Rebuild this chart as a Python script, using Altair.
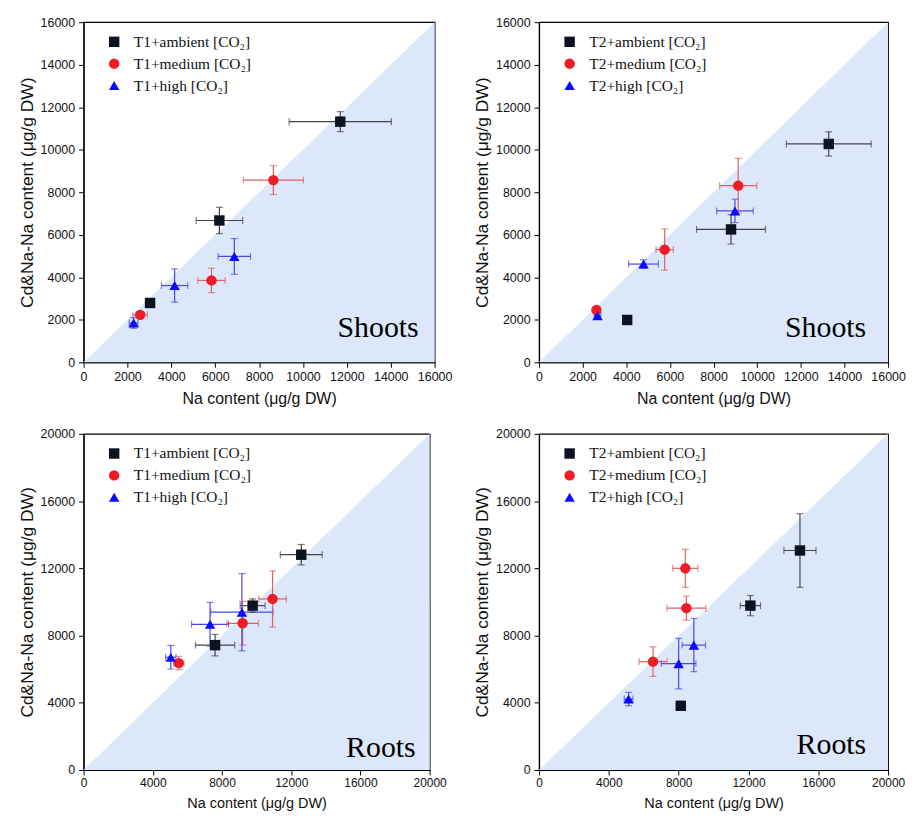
import altair as alt
import pandas as pd

# ---------------- data ----------------
# Panel 1: T1 shoots
p1_series = ["T1+ambient [CO₂]"] * 3 + ["T1+medium [CO₂]"] * 3 + ["T1+high [CO₂]"] * 3
p1_x = [11700, 6190, 3030, 8650, 5830, 2580, 6870, 4150, 2280]
p1_xerr = [2330, 1060, 150, 1370, 625, 330, 740, 600, 200]
p1_y = [11320, 6670, 2790, 8570, 3850, 2230, 4980, 3610, 1850]
p1_yerr = [470, 620, 150, 680, 576, 150, 840, 780, 250]

# Panel 2: T2 shoots
p2_series = ["T2+ambient [CO₂]"] * 3 + ["T2+medium [CO₂]"] * 3 + ["T2+high [CO₂]"] * 3
p2_x = [13280, 8800, 4040, 9130, 5760, 2630, 8980, 4790, 2680]
p2_xerr = [1945, 1580, 0, 850, 400, 120, 840, 680, 150]
p2_y = [10270, 6250, 1990, 8310, 5300, 2460, 7120, 4620, 2190]
p2_yerr = [570, 690, 0, 1285, 970, 120, 550, 200, 150]

# Panel 3: T1 roots
p3_series = ["T1+ambient [CO₂]"] * 3 + ["T1+medium [CO₂]"] * 3 + ["T1+high [CO₂]"] * 3
p3_x = [12580, 9770, 7600, 10920, 9190, 5500, 9150, 7310, 5040]
p3_xerr = [1210, 720, 1135, 800, 915, 300, 1800, 1070, 300]
p3_y = [12810, 9780, 7430, 10180, 8730, 6360, 9390, 8670, 6710]
p3_yerr = [610, 400, 640, 1670, 1300, 400, 2300, 1300, 700]

# Panel 4: T2 roots
p4_series = ["T2+ambient [CO₂]"] * 3 + ["T2+medium [CO₂]"] * 3 + ["T2+high [CO₂]"] * 3
p4_x = [14950, 12110, 8120, 8380, 8440, 6530, 8870, 8000, 5130]
p4_xerr = [920, 580, 0, 720, 1115, 800, 670, 990, 250]
p4_y = [13060, 9780, 3820, 12000, 9630, 6450, 7430, 6330, 4220]
p4_yerr = [2190, 600, 0, 1130, 715, 880, 1580, 1500, 400]

marker_colors = ["#0d1220", "#ee1c25", "#0a0aff"]
bar_colors = ["#444444", "#e06060", "#4848e8"]
shapes = ["square", "circle", "triangle-up"]
marker_sizes = [110, 110, 170]

X_TITLE = "Na content (μg/g DW)"
Y_TITLE = "Cd&Na-Na content (μg/g DW)"


def panel(series, xs, xerr, ys, yerr, vmax, major, minor, label, W, H,
          xlabel_size, xtitle_size, label_right, label_bottom):
    order = []
    for s in series:
        if s not in order:
            order.append(s)
    df = pd.DataFrame({"series": series, "x": xs, "xerr": xerr, "y": ys, "yerr": yerr})
    df["xlo"] = df["x"] - df["xerr"]
    df["xhi"] = df["x"] + df["xerr"]
    df["ylo"] = df["y"] - df["yerr"]
    df["yhi"] = df["y"] + df["yerr"]
    cmap = dict(zip(order, bar_colors))
    df["ecolor"] = df["series"].map(cmap)
    df_err_x = df[df["xerr"] > 0]
    df_err_y = df[df["yerr"] > 0]

    ticks = list(range(0, vmax + 1, minor))
    lab = f"datum.value % {major} === 0 ? datum.label : ''"
    xscale = alt.Scale(domain=[0, vmax], nice=False, zero=True)
    yscale = alt.Scale(domain=[0, vmax], nice=False, zero=True)
    xaxis = alt.Axis(values=ticks, labelExpr=lab, format="d", title=X_TITLE,
                     grid=False, tickSize=5, labelPadding=3, titlePadding=8,
                     labelFontSize=xlabel_size, titleFontSize=xtitle_size,
                     labelFlush=False)
    yaxis = alt.Axis(values=ticks, labelExpr=lab, format="d", title=Y_TITLE,
                     grid=False, tickSize=5, labelPadding=4, titlePadding=4,
                     labelFlush=False)

    diag = pd.DataFrame({"dx": [0, vmax], "dy": [0, vmax], "d0": [0, 0]})
    area = alt.Chart(diag).mark_area(color="#dde7fa", opacity=1).encode(
        x=alt.X("dx:Q", scale=xscale, axis=xaxis),
        y=alt.Y("dy:Q", scale=yscale, axis=yaxis),
        y2="d0:Q",
    )

    ecol = alt.Color("ecolor:N", scale=None)
    hbar = alt.Chart(df_err_x).mark_rule(strokeWidth=1.2).encode(
        x=alt.X("xlo:Q", scale=xscale), x2="xhi:Q",
        y=alt.Y("y:Q", scale=yscale), color=ecol,
    )
    hcap_lo = alt.Chart(df_err_x).mark_tick(orient="vertical", size=7, thickness=1.2).encode(
        x=alt.X("xlo:Q", scale=xscale), y=alt.Y("y:Q", scale=yscale), color=ecol,
    )
    hcap_hi = alt.Chart(df_err_x).mark_tick(orient="vertical", size=7, thickness=1.2).encode(
        x=alt.X("xhi:Q", scale=xscale), y=alt.Y("y:Q", scale=yscale), color=ecol,
    )
    vbar = alt.Chart(df_err_y).mark_rule(strokeWidth=1.2).encode(
        x=alt.X("x:Q", scale=xscale),
        y=alt.Y("ylo:Q", scale=yscale), y2="yhi:Q", color=ecol,
    )
    vcap_lo = alt.Chart(df_err_y).mark_tick(orient="horizontal", size=7, thickness=1.2).encode(
        x=alt.X("x:Q", scale=xscale), y=alt.Y("ylo:Q", scale=yscale), color=ecol,
    )
    vcap_hi = alt.Chart(df_err_y).mark_tick(orient="horizontal", size=7, thickness=1.2).encode(
        x=alt.X("x:Q", scale=xscale), y=alt.Y("yhi:Q", scale=yscale), color=ecol,
    )

    legend = alt.Legend(title=None, orient="none", legendX=23, legendY=12,
                        labelFont="Liberation Serif", labelFontSize=15.5,
                        labelColor="#111", symbolSize=64, rowPadding=5,
                        labelOffset=12, padding=0, symbolStrokeWidth=0,
                        symbolOpacity=1)
    pts = alt.Chart(df).mark_point(filled=True, opacity=1).encode(
        x=alt.X("x:Q", scale=xscale),
        y=alt.Y("y:Q", scale=yscale),
        color=alt.Color("series:N", scale=alt.Scale(domain=order, range=marker_colors),
                        legend=legend, sort=order),
        shape=alt.Shape("series:N", scale=alt.Scale(domain=order, range=shapes),
                        legend=legend, sort=order),
        size=alt.Size("series:N", scale=alt.Scale(domain=order, range=marker_sizes),
                      legend=None),
    )

    txt = alt.Chart(pd.DataFrame({"t": [label]})).mark_text(
        font="Liberation Serif", fontSize=30, align="right", baseline="alphabetic",
        color="#000").encode(
        text="t:N", x=alt.value(W - label_right), y=alt.value(H - label_bottom))

    return alt.layer(area, hbar, hcap_lo, hcap_hi, vbar, vcap_lo, vcap_hi, pts, txt).properties(
        width=W, height=H)


p1 = panel(p1_series, p1_x, p1_xerr, p1_y, p1_yerr, 16000, 2000, 1000, "Shoots", 353, 342,
           12.5, 16, 16, 25)
p2 = panel(p2_series, p2_x, p2_xerr, p2_y, p2_yerr, 16000, 2000, 1000, "Shoots", 351, 342,
           12.5, 16, 22, 25)
p3 = panel(p3_series, p3_x, p3_xerr, p3_y, p3_yerr, 20000, 4000, 2000, "Roots", 348, 338,
           12, 14.5, 14, 13)
p4 = panel(p4_series, p4_x, p4_xerr, p4_y, p4_yerr, 20000, 4000, 2000, "Roots", 351, 338,
           12, 14.5, 22, 16)

res = dict(color="independent", shape="independent", size="independent")
chart = alt.concat(
    p1, p2, p3, p4, columns=2, bounds="flush",
    spacing={"row": 72, "column": 105},
).resolve_scale(**res).resolve_legend(
    color="independent", shape="independent"
).properties(
    padding={"left": 9, "top": 5, "right": 0, "bottom": 0},
    background="white",
).configure_view(
    stroke="#000", strokeWidth=1.2
).configure_axis(
    domainColor="#000", tickColor="#000", labelColor="#111", titleColor="#111",
    labelFont="Liberation Sans", titleFont="Liberation Sans",
    labelFontSize=12.5, titleFontSize=17.5, titleFontWeight="normal",
    domainWidth=1.2, tickWidth=1,
).configure_legend(symbolOpacity=1)

chart.save("out.html", embed_options={"renderer": "svg", "actions": False})
